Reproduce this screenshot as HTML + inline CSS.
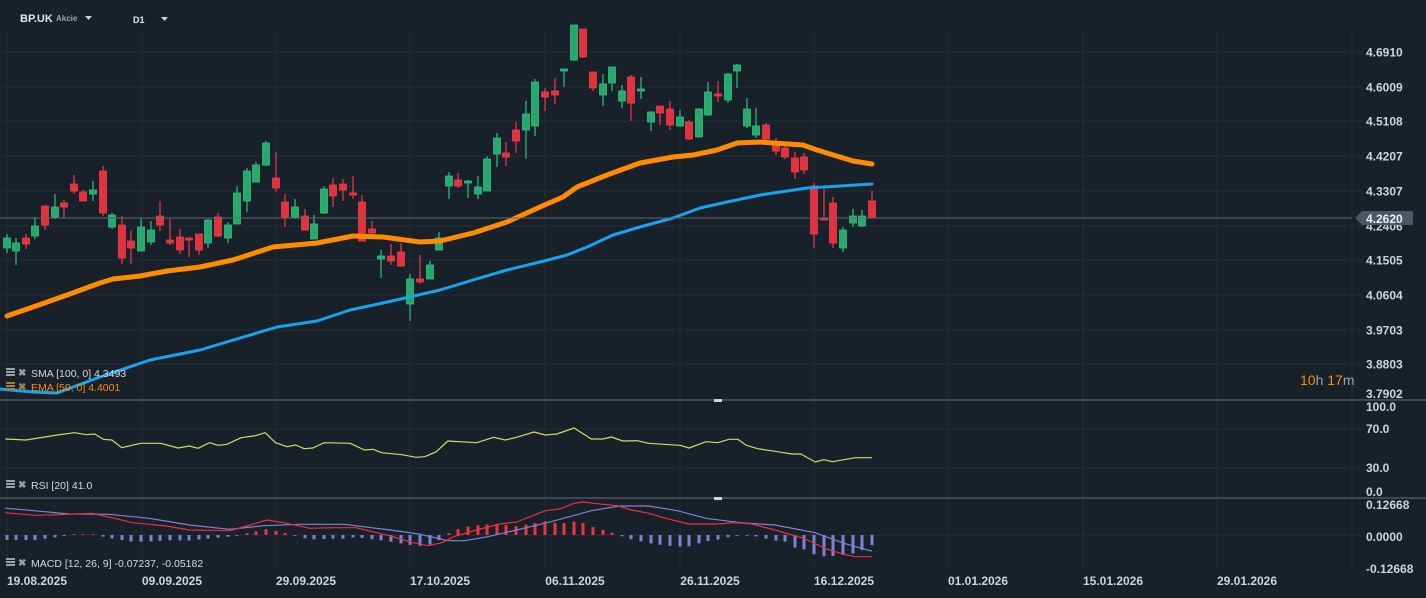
<!DOCTYPE html>
<html><head><meta charset="utf-8"><style>
html,body{margin:0;padding:0;background:#18202a;}
body{width:1426px;height:598px;overflow:hidden;position:relative;font-family:"Liberation Sans",sans-serif;}
svg{position:absolute;left:0;top:0;}
</style></head><body>
<svg id="s" width="1426" height="598" xmlns="http://www.w3.org/2000/svg">
<rect width="1426" height="598" fill="#18202a"/>
<g id="grid"></g>
<g id="main"></g>
<g font-family="Liberation Sans, sans-serif">
<text x="20" y="22" fill="#e6e8ea" font-size="11" font-weight="bold">BP.UK</text>
<text x="56" y="21" fill="#9aa3ad" font-size="8" font-weight="bold">Akcie</text>
<path d="M85 16 L92 16 L88.5 20 Z" fill="#cfd3d8"/>
<text x="133" y="23" fill="#e6e8ea" font-size="9" font-weight="bold">D1</text>
<path d="M161 17 L168 17 L164.5 21 Z" fill="#cfd3d8"/>
</g>
</svg>
<script>
const s=document.getElementById('main'), g=document.getElementById('grid');
const NS='http://www.w3.org/2000/svg';
function el(p,tag,a,txt){const e=document.createElementNS(NS,tag);for(const k in a)e.setAttribute(k,a[k]);if(txt!==undefined)e.textContent=txt;p.appendChild(e);return e;}
// grid
const vx=[7,142,276,410,545,680,814,948,1083,1217,1352];
vx.forEach(x=>{el(g,'line',{x1:x,y1:30,x2:x,y2:570,stroke:'#232c36','stroke-width':1});});
const pl=[[52,'4.6910'],[87,'4.6009'],[121,'4.5108'],[156,'4.4207'],[191,'4.3307'],[226,'4.2406'],[260,'4.1505'],[295,'4.0604'],[330,'3.9703'],[364,'3.8803']];
pl.forEach(p=>{el(g,'line',{x1:0,y1:p[0],x2:1362,y2:p[0],stroke:'#232c36'});el(g,'text',{x:1366,y:p[0]+4.5,fill:'#d0d4da','font-size':12,'font-weight':'bold'},p[1]);});
el(g,'text',{x:1366,y:398,fill:'#d0d4da','font-size':12,'font-weight':'bold'},'3.7902');
[[429,'70.0'],[468,'30.0']].forEach(p=>{el(g,'line',{x1:0,y1:p[0],x2:1362,y2:p[0],stroke:'#232c36'});});
[[411,'100.0'],[433,'70.0'],[472,'30.0'],[496,'0.0'],[509,'0.12668'],[541,'0.0000'],[573,'-0.12668']].forEach(p=>{el(g,'text',{x:1366,y:p[0],fill:'#d0d4da','font-size':12,'font-weight':'bold'},p[1]);});
el(g,'line',{x1:0,y1:535,x2:1362,y2:535,stroke:'#232c36'});
el(g,'line',{x1:0,y1:400,x2:1426,y2:400,stroke:'#4b5662','stroke-width':1.5});
el(g,'line',{x1:0,y1:498,x2:1426,y2:498,stroke:'#4b5662','stroke-width':1.5});
el(g,'rect',{x:714,y:399,width:8,height:3,fill:'#d0d4da'});
el(g,'rect',{x:714,y:497,width:8,height:3,fill:'#d0d4da'});
['19.08.2025','09.09.2025','29.09.2025','17.10.2025','06.11.2025','26.11.2025','16.12.2025','01.01.2026','15.01.2026','29.01.2026'].forEach((d,i)=>{el(g,'text',{x:vx[i]+30,y:585,fill:'#d0d4da','font-size':12,'font-weight':'bold','text-anchor':'middle'},d);});
// candles: x, o(top/bottom)... [x,bodyTop,bodyBot,wickTop,wickBot,green]
const C=[[7,238,248,234,253,1],[16,243,251,238,265,1],[26,238,244,234,249,0],[35,226,236,217,239,1],[45,206,225,206,230,0],[55,207,217,194,219,1],[64,203,207,200,218,0],[74,184,191,175,194,0],[83,192,201,190,201,0],[93,190,194,181,201,1],[103,171,213,166,216,0],[112,215,227,213,229,1],[122,225,258,216,264,0],[131,241,248,230,264,0],[141,227,251,218,251,1],[151,230,242,221,245,1],[160,216,225,201,231,0],[170,240,243,219,245,0],[180,237,250,229,254,0],[189,238,240,238,257,0],[199,234,250,234,255,0],[208,220,243,219,248,1],[218,217,236,213,237,0],[228,225,238,222,243,1],[237,193,224,186,224,1],[247,171,201,168,212,1],[256,165,182,162,182,1],[266,143,165,141,166,1],[276,178,188,152,192,0],[285,202,217,194,227,0],[295,207,217,199,219,1],[305,216,230,209,230,0],[314,224,239,215,239,1],[324,189,213,186,214,1],[333,185,196,178,207,0],[343,184,190,179,201,0],[353,193,195,176,199,0],[362,202,241,195,241,0],[372,229,233,221,237,0],[381,256,259,250,278,1],[391,256,261,244,265,0],[401,252,266,243,267,0],[410,279,304,274,321,1],[420,279,282,255,284,0],[430,265,279,261,279,1],[439,238,250,232,250,1],[449,176,186,172,199,1],[458,180,186,173,188,0],[468,181,183,180,198,1],[478,187,194,176,199,1],[487,159,191,156,191,1],[497,138,154,133,167,1],[506,153,157,142,166,0],[516,130,141,122,153,0],[526,114,130,101,159,1],[535,82,126,79,136,1],[545,92,97,88,111,0],[555,91,95,78,104,0],[564,69,71,69,87,1],[574,25,60,25,61,1],[583,29,57,29,58,0],[593,72,88,72,91,0],[603,84,95,74,106,1],[612,67,83,67,91,1],[622,91,101,85,108,1],[631,77,103,75,121,0],[641,89,91,77,99,1],[651,112,122,111,131,1],[660,106,113,106,125,0],[670,109,125,101,130,0],[680,117,126,110,126,1],[689,122,139,120,140,0],[699,109,137,108,137,1],[708,92,115,82,116,1],[718,94,96,81,102,0],[728,74,100,73,103,1],[737,65,71,64,88,1],[747,109,126,98,128,1],[756,126,135,108,138,1],[766,125,139,123,143,0],[776,146,151,138,155,0],[785,148,157,145,159,0],[795,158,172,152,179,0],[804,157,170,153,174,0],[814,186,234,183,248,0],[824,218,220,189,220,0],[833,203,243,197,248,0],[843,230,248,227,252,1],[853,216,223,209,227,1],[862,216,226,210,227,1],[872,201,218,191,218,0]];
C.forEach(c=>{const col=c[5]?'#26a86f':'#e2323f',bc=c[5]?'#2ec07e':'#f23b49';
el(s,'line',{x1:c[0],y1:c[3],x2:c[0],y2:c[4],stroke:bc,'stroke-width':1.2});
el(s,'rect',{x:c[0]-3.5,y:c[1],width:7,height:Math.max(2,c[2]-c[1]),fill:col,stroke:bc,'stroke-width':0.8});});
function poly(pts,col,w){el(s,'polyline',{points:pts.map(p=>p.join(',')).join(' '),fill:'none',stroke:col,'stroke-width':w,'stroke-linejoin':'round','stroke-linecap':'round'});}
poly([[7,316],[33,307],[67,295],[100,283],[113,279],[140,276],[167,271],[200,267],[233,260],[273,247],[317,243],[353,236],[383,237],[420,242],[440,241],[473,233],[507,222],[540,207],[563,197],[577,187],[607,175],[640,163],[673,157],[693,155],[717,150],[737,143],[760,142],[773,143],[803,145],[817,150],[840,157],[853,161],[872,164]],'#ff8c00',5);
poly([[0,389],[33,392],[57,393],[100,377],[150,360],[200,350],[277,327],[317,321],[350,310],[383,303],[440,290],[473,280],[507,270],[540,262],[567,255],[587,247],[613,235],[640,227],[673,218],[700,208],[727,202],[760,195],[787,191],[807,188],[840,186],[872,184]],'#17a3ee',3);
// price line
el(s,'line',{x1:0,y1:218,x2:1352,y2:218,stroke:'#5d6a75','stroke-width':1});
el(s,'path',{d:'M1355 218 L1362 211 L1413 211 L1413 225 L1362 225 Z',fill:'#4a5866'});
el(s,'text',{x:1366,y:223,fill:'#eef0f2','font-size':12,'font-weight':'bold'},'4.2620');
// countdown
const t=el(s,'text',{x:1300,y:385,'font-size':14});
[['10','#ff8c00'],['h ','#9aa3ad'],['17','#ff8c00'],['m','#9aa3ad']].forEach(a=>{el(t,'tspan',{fill:a[1]},a[0]);});
// RSI
const sx=1/1.742;
const R=[[10,237],[45,240],[100,225],[130,218],[150,224],[165,222],[180,238],[195,240],[212,263],[245,250],[280,250],[310,264],[330,258],[345,265],[365,248],[380,256],[395,253],[420,233],[445,227],[462,218],[480,248],[500,260],[515,255],[530,266],[545,264],[565,248],[610,250],[635,270],[650,268],[665,278],[700,284],[725,292],[740,290],[760,275],[780,243],[830,248],[860,232],[880,240],[900,232],[930,216],[950,225],[970,222],[1000,204],[1030,237],[1050,237],[1065,231],[1085,243],[1110,242],[1130,250],[1165,254],[1185,256],[1200,264],[1230,245],[1250,248],[1270,238],[1285,238],[1300,256],[1320,266],[1350,274],[1380,282],[1395,282],[1420,306],[1435,299],[1450,305],[1490,293],[1518,293]];
const tr=p=>[(p[0]*sx).toFixed(1),(360+p[1]/3).toFixed(1)];
poly(R.map(tr),'#d8d56a',1.2);
// MACD
const M=[[10,458],[60,466],[100,464],[160,460],[200,475],[230,488],[290,498],[330,510],[400,512],[430,498],[465,480],[500,490],[540,505],[580,503],[620,503],[680,528],[720,548],[745,557],[770,548],[790,530],[830,510],[870,492],[900,486],[950,452],[975,447],[1000,430],[1015,426],[1050,433],[1075,437],[1100,450],[1130,460],[1160,475],[1200,492],[1250,492],[1280,488],[1310,492],[1350,510],[1400,535],[1440,567],[1470,583],[1490,590],[1518,590]];
const Sg=[[10,445],[60,452],[120,462],[190,463],[260,475],[330,495],[400,508],[460,497],[520,493],[600,493],[680,510],[730,522],[780,542],[810,542],[850,530],[900,510],[960,485],[1030,452],[1080,438],[1130,438],[1180,452],[1230,475],[1290,488],[1350,495],[1420,518],[1470,550],[1518,573]];
function interp(A,x){for(let i=0;i<A.length-1;i++){if(x>=A[i][0]&&x<=A[i+1][0]){const f=(x-A[i][0])/(A[i+1][0]-A[i][0]);return A[i][1]+f*(A[i+1][1]-A[i][1]);}}return x<A[0][0]?A[0][1]:A[A.length-1][1];}
C.forEach(c=>{const X=c[0]/sx;let d=(interp(Sg,X)-interp(M,X))/3; // positive = red above
let h=d*1.1; if(c[0]>790&&d<0)h=d*1.8;
if(Math.abs(h)<0.8)h=h<0?-0.8:0.8;
const col=h>0?'#f0343f':'#7c84d6';
el(s,'rect',{x:c[0]-1.5,y:h>0?535-h:535,width:3,height:Math.abs(h),fill:col});});
poly(Sg.map(tr),'#7c84d6',1.2);
poly(M.map(tr),'#e8303c',1.2);
// legends
function leg(y,txt,col,ic){el(s,'rect',{x:6,y:y-8,width:9,height:2,fill:ic});el(s,'rect',{x:6,y:y-5,width:9,height:2,fill:ic});el(s,'rect',{x:6,y:y-2,width:9,height:2,fill:ic});
el(s,'text',{x:18,y:y,fill:ic,'font-size':10,'font-weight':'bold'},'✖');
el(s,'text',{x:31,y:y+1,fill:col,'font-size':10.5},txt);}
leg(376,'SMA [100,  0] 4.3493','#d6dade','#9aa0a6');
leg(390,'EMA [50,  0] 4.4001','#ff8c00','#a08040');
leg(488,'RSI [20]  41.0','#d6dade','#9aa0a6');
leg(566,'MACD [12, 26, 9] -0.07237,  -0.05182','#d6dade','#9aa0a6');
</script>
</body></html>
